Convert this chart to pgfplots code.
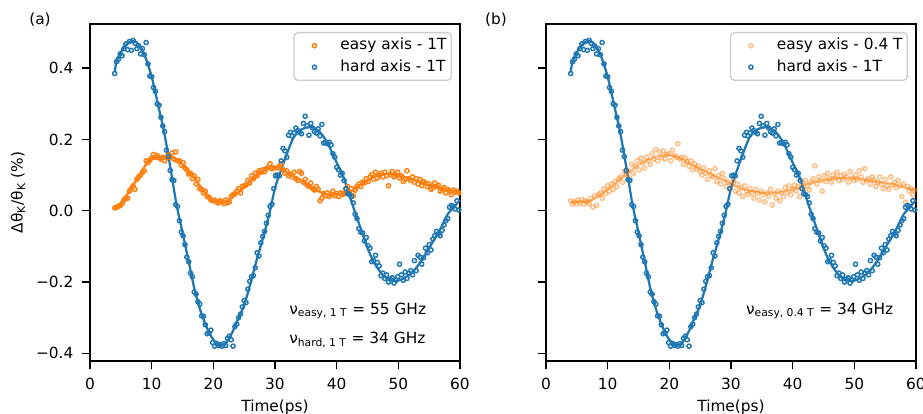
\documentclass[border=0pt]{standalone}
\usepackage{fontspec}
\setmainfont{DejaVu Sans}
\usepackage{pgfplots}
\usepackage{pgfplotstable}
\pgfplotsset{compat=1.18}
\definecolor{mblue}{HTML}{1F77B4}
\definecolor{morange}{HTML}{FF7F0E}

% hard axis - 1T, measured points
\pgfplotstableread{
t y
4.0 0.385
4.3 0.418
4.6 0.425
4.9 0.440
5.2 0.435
5.5 0.455
5.8 0.468
6.1 0.452
6.4 0.475
6.7 0.450
7.0 0.478
7.3 0.470
7.6 0.455
7.9 0.462
8.2 0.440
8.5 0.455
8.8 0.438
9.1 0.472
9.4 0.412
9.7 0.378
10.0 0.376
10.3 0.346
10.6 0.335
10.9 0.300
11.2 0.296
11.5 0.262
11.8 0.238
12.1 0.222
12.4 0.170
12.7 0.152
13.0 0.113
13.3 0.087
13.6 0.085
13.9 0.017
14.2 0.012
14.5 -0.028
14.8 -0.060
15.1 -0.070
15.4 -0.095
15.7 -0.130
16.0 -0.143
16.3 -0.175
16.6 -0.185
16.9 -0.228
17.2 -0.234
17.5 -0.255
17.8 -0.262
18.1 -0.295
18.4 -0.296
18.7 -0.320
19.0 -0.345
19.3 -0.343
19.6 -0.335
19.9 -0.370
20.2 -0.380
20.5 -0.372
20.8 -0.378
21.1 -0.376
21.4 -0.380
21.7 -0.373
22.0 -0.378
22.3 -0.358
22.6 -0.352
22.9 -0.362
23.2 -0.380
23.5 -0.325
23.8 -0.318
24.1 -0.300
24.4 -0.290
24.7 -0.270
25.0 -0.252
25.3 -0.258
25.6 -0.220
25.9 -0.198
26.2 -0.185
26.5 -0.182
26.8 -0.160
27.1 -0.118
27.4 -0.127
27.7 -0.090
28.0 -0.072
28.3 -0.058
28.6 -0.035
28.9 -0.013
29.2 0.012
29.5 0.018
29.8 0.062
30.1 0.098
30.4 0.100
30.7 0.098
31.0 0.140
31.3 0.175
31.6 0.168
31.9 0.150
32.2 0.212
32.5 0.220
32.8 0.210
33.1 0.218
33.4 0.232
33.7 0.225
34.0 0.220
34.3 0.216
34.6 0.245
34.9 0.265
35.2 0.238
35.5 0.212
35.8 0.245
36.1 0.232
36.4 0.222
36.7 0.218
37.0 0.230
37.3 0.210
37.6 0.242
37.9 0.190
38.2 0.192
38.5 0.188
38.8 0.192
39.1 0.185
39.4 0.160
39.7 0.150
40.0 0.122
40.3 0.115
40.6 0.100
40.9 0.105
41.2 0.085
41.5 0.062
41.8 0.048
42.1 0.045
42.4 0.040
42.7 0.022
43.0 -0.010
43.3 -0.022
43.6 -0.050
43.9 -0.060
44.2 -0.062
44.5 -0.085
44.8 -0.075
45.1 -0.098
45.4 -0.105
45.7 -0.143
46.0 -0.140
46.3 -0.125
46.6 -0.145
46.9 -0.155
47.2 -0.182
47.5 -0.175
47.8 -0.190
48.1 -0.180
48.4 -0.200
48.7 -0.192
49.0 -0.188
49.3 -0.203
49.6 -0.195
49.9 -0.185
50.2 -0.150
50.5 -0.180
50.8 -0.195
51.1 -0.172
51.4 -0.190
51.7 -0.175
52.0 -0.168
52.3 -0.180
52.6 -0.140
52.9 -0.168
53.2 -0.125
53.5 -0.130
53.8 -0.150
54.1 -0.132
54.4 -0.105
54.7 -0.118
55.0 -0.095
55.3 -0.110
55.6 -0.080
55.9 -0.070
56.2 -0.058
56.5 -0.065
56.8 -0.070
57.1 -0.055
57.4 -0.040
57.7 -0.028
58.0 -0.022
58.3 0.010
58.6 0.015
58.9 0.012
59.2 0.005
59.5 0.028
59.8 0.002
}\hardpts

% hard axis - 1T, fit
\pgfplotstableread{
t y
4 0.388
4.3 0.418
5 0.445
6 0.468
7 0.477
8 0.465
9 0.430
10 0.376
11 0.300
12 0.222
13 0.125
14 0.020
15 -0.061
16 -0.142
17 -0.224
18 -0.285
19 -0.330
20 -0.362
21 -0.378
22 -0.372
23 -0.344
24 -0.305
25 -0.265
26 -0.205
27 -0.140
28 -0.080
29 -0.015
30 0.063
31 0.115
32 0.163
33 0.205
34 0.225
35 0.233
36 0.234
37 0.225
38 0.205
39 0.173
40 0.135
41 0.100
42 0.047
43 -0.005
44 -0.055
45 -0.105
46 -0.143
47 -0.170
48 -0.188
49 -0.195
50 -0.196
51 -0.188
52 -0.177
53 -0.158
54 -0.133
55 -0.105
56 -0.075
57 -0.045
58 -0.010
59 0.010
60 0.030
}\hardfit

% easy axis - 1T, measured points
\pgfplotstableread{
t y
4.0 0.008
4.3 0.010
4.6 0.012
4.9 0.015
5.2 0.020
5.5 0.030
5.8 0.036
6.1 0.035
6.4 0.055
6.7 0.062
7.0 0.070
7.3 0.060
7.6 0.088
7.9 0.095
8.2 0.100
8.5 0.108
8.8 0.112
9.1 0.140
9.4 0.135
9.7 0.142
10.0 0.148
10.3 0.158
10.6 0.150
10.9 0.155
11.2 0.148
11.5 0.145
11.8 0.150
12.1 0.140
12.4 0.148
12.7 0.158
13.0 0.150
13.3 0.162
13.6 0.145
13.9 0.165
14.2 0.140
14.5 0.140
14.8 0.128
15.1 0.135
15.4 0.120
15.7 0.115
16.0 0.103
16.3 0.105
16.6 0.090
16.9 0.098
17.2 0.075
17.5 0.088
17.8 0.062
18.1 0.060
18.4 0.050
18.7 0.055
19.0 0.040
19.3 0.038
19.6 0.030
19.9 0.028
20.2 0.030
20.5 0.025
20.8 0.022
21.1 0.028
21.4 0.025
21.7 0.020
22.0 0.030
22.3 0.022
22.6 0.025
22.9 0.040
23.2 0.045
23.5 0.048
23.8 0.055
24.1 0.062
24.4 0.050
24.7 0.068
25.0 0.070
25.3 0.072
25.6 0.085
25.9 0.078
26.2 0.098
26.5 0.090
26.8 0.105
27.1 0.098
27.4 0.112
27.7 0.108
28.0 0.115
28.3 0.110
28.6 0.118
28.9 0.122
29.2 0.132
29.5 0.118
29.8 0.120
30.1 0.100
30.4 0.120
30.7 0.125
31.0 0.132
31.3 0.115
31.6 0.105
31.9 0.112
32.2 0.098
32.5 0.103
32.8 0.095
33.1 0.108
33.4 0.090
33.7 0.085
34.0 0.110
34.3 0.105
34.6 0.080
34.9 0.088
35.2 0.072
35.5 0.068
35.8 0.078
36.1 0.062
36.4 0.058
36.7 0.068
37.0 0.060
37.3 0.028
37.6 0.035
37.9 0.048
38.2 0.042
38.5 0.050
38.8 0.040
39.1 0.045
39.4 0.055
39.7 0.042
40.0 0.048
40.3 0.040
40.6 0.050
40.9 0.045
41.2 0.048
41.5 0.060
41.8 0.068
42.1 0.052
42.4 0.062
42.7 0.042
43.0 0.058
43.3 0.068
43.6 0.075
43.9 0.068
44.2 0.080
44.5 0.078
44.8 0.090
45.1 0.082
45.4 0.095
45.7 0.102
46.0 0.088
46.3 0.108
46.6 0.092
46.9 0.100
47.2 0.105
47.5 0.095
47.8 0.108
48.1 0.098
48.4 0.070
48.7 0.102
49.0 0.110
49.3 0.095
49.6 0.100
49.9 0.108
50.2 0.092
50.5 0.098
50.8 0.082
51.1 0.088
51.4 0.112
51.7 0.090
52.0 0.085
52.3 0.095
52.6 0.080
52.9 0.090
53.2 0.075
53.5 0.088
53.8 0.070
54.1 0.082
54.4 0.078
54.7 0.068
55.0 0.075
55.3 0.060
55.6 0.065
55.9 0.078
56.2 0.068
56.5 0.072
56.8 0.055
57.1 0.060
57.4 0.065
57.7 0.050
58.0 0.060
58.3 0.055
58.6 0.045
58.9 0.058
59.2 0.052
59.5 0.055
59.8 0.050
}\easypts

% easy axis - 1T, fit
\pgfplotstableread{
t y
4 0.008
5 0.018
6 0.045
7 0.072
8 0.098
9 0.128
10 0.146
11 0.152
12 0.150
13 0.150
14 0.145
15 0.130
16 0.112
17 0.090
18 0.066
19 0.045
20 0.030
21 0.024
22 0.026
23 0.036
24 0.050
25 0.065
26 0.082
27 0.098
28 0.110
29 0.120
30 0.124
31 0.118
32 0.107
33 0.097
34 0.088
35 0.077
36 0.065
37 0.055
38 0.048
39 0.045
40 0.046
41 0.048
42 0.052
43 0.062
44 0.074
45 0.085
46 0.095
47 0.100
48 0.103
49 0.103
50 0.100
51 0.095
52 0.089
53 0.084
54 0.078
55 0.072
56 0.067
57 0.062
58 0.058
59 0.055
60 0.053
}\easyfit

% easy axis - 0.4 T, measured points
\pgfplotstableread{
t y
4.0 0.028
4.3 0.018
4.6 0.025
4.9 0.020
5.2 0.030
5.5 0.022
5.8 0.032
6.1 0.018
6.4 0.028
6.7 0.025
7.0 0.020
7.3 0.035
7.6 0.010
7.9 0.042
8.2 0.015
8.5 0.045
8.8 0.050
9.1 0.035
9.4 0.062
9.7 0.048
10.0 0.070
10.3 0.055
10.6 0.075
10.9 0.060
11.2 0.082
11.5 0.068
11.8 0.090
12.1 0.095
12.4 0.080
12.7 0.110
13.0 0.100
13.3 0.112
13.6 0.092
13.9 0.130
14.2 0.105
14.5 0.125
14.8 0.140
15.1 0.115
15.4 0.148
15.7 0.135
16.0 0.120
16.3 0.150
16.6 0.140
16.9 0.130
17.2 0.160
17.5 0.145
17.8 0.172
18.1 0.140
18.4 0.165
18.7 0.150
19.0 0.168
19.3 0.145
19.6 0.158
19.9 0.160
20.2 0.140
20.5 0.170
20.8 0.155
21.1 0.150
21.4 0.188
21.7 0.145
22.0 0.150
22.3 0.130
22.6 0.148
22.9 0.138
23.2 0.125
23.5 0.140
23.8 0.115
24.1 0.132
24.4 0.118
24.7 0.125
25.0 0.110
25.3 0.100
25.6 0.120
25.9 0.105
26.2 0.088
26.5 0.112
26.8 0.100
27.1 0.095
27.4 0.118
27.7 0.082
28.0 0.098
28.3 0.075
28.6 0.105
28.9 0.090
29.2 0.068
29.5 0.080
29.8 0.060
30.1 0.072
30.4 0.085
30.7 0.055
31.0 0.075
31.3 0.050
31.6 0.065
31.9 0.040
32.2 0.070
32.5 0.055
32.8 0.045
33.1 0.062
33.4 0.050
33.7 0.035
34.0 0.060
34.3 0.048
34.6 0.030
34.9 0.055
35.2 0.045
35.5 0.025
35.8 0.050
36.1 0.040
36.4 0.060
36.7 0.016
37.0 0.048
37.3 0.035
37.6 0.055
37.9 0.028
38.2 0.050
38.5 0.040
38.8 0.065
39.1 0.052
39.4 0.070
39.7 0.045
40.0 0.060
40.3 0.072
40.6 0.055
40.9 0.068
41.2 0.040
41.5 0.078
41.8 0.060
42.1 0.085
42.4 0.070
42.7 0.058
43.0 0.080
43.3 0.090
43.6 0.126
43.9 0.075
44.2 0.095
44.5 0.085
44.8 0.055
45.1 0.098
45.4 0.082
45.7 0.105
46.0 0.090
46.3 0.080
46.6 0.100
46.9 0.092
47.2 0.108
47.5 0.085
47.8 0.098
48.1 0.088
48.4 0.102
48.7 0.095
49.0 0.080
49.3 0.110
49.6 0.092
49.9 0.085
50.2 0.100
50.5 0.088
50.8 0.112
51.1 0.095
51.4 0.080
51.7 0.118
52.0 0.085
52.3 0.090
52.6 0.075
52.9 0.095
53.2 0.085
53.5 0.068
53.8 0.080
54.1 0.095
54.4 0.075
54.7 0.062
55.0 0.088
55.3 0.070
55.6 0.060
55.9 0.095
56.2 0.072
56.5 0.080
56.8 0.065
57.1 0.085
57.4 0.070
57.7 0.040
58.0 0.075
58.3 0.024
58.6 0.068
58.9 0.055
59.2 0.062
59.5 0.045
59.8 0.058
}\easylowpts

% easy axis - 0.4 T, fit
\pgfplotstableread{
t y
4 0.025
5 0.025
6 0.025
7 0.027
8 0.035
9 0.046
10 0.060
11 0.073
12 0.088
13 0.102
14 0.115
15 0.128
16 0.138
17 0.146
18 0.152
19 0.155
20 0.156
21 0.152
22 0.144
23 0.135
24 0.126
25 0.117
26 0.109
27 0.100
28 0.092
29 0.084
30 0.075
31 0.067
32 0.060
33 0.056
34 0.053
35 0.051
36 0.049
37 0.050
38 0.052
39 0.056
40 0.060
41 0.065
42 0.072
43 0.078
44 0.083
45 0.086
46 0.089
47 0.091
48 0.092
49 0.092
50 0.091
51 0.089
52 0.086
53 0.083
54 0.080
55 0.078
56 0.076
57 0.071
58 0.066
59 0.061
60 0.057
}\easylowfit

\newcommand{\fs}{\fontsize{9.6}{11.5}\selectfont}

\pgfplotsset{
  panel/.style={
    scale only axis, width=231.25pt, height=210.625pt,
    xmin=0, xmax=60, ymin=-0.4216, ymax=0.524,
    clip=false,
    xtick={0,10,20,30,40,50,60},
    xticklabels={0,10,20,30,40,50,60},
    ytick={-0.4,-0.2,0,0.2,0.4},
    xtick pos=bottom, ytick pos=left,
    tick align=outside, major tick length=5.2pt,
    every tick/.style={black, line width=0.9pt},
    axis line style={line width=0.9pt},
    tick label style={font=\fs},
    xticklabel style={inner sep=0pt, yshift=-5pt},
    yticklabel style={inner sep=0pt, xshift=-5pt},
    xlabel={Time(ps)},
    xlabel style={font=\fs, at={(axis description cs:0.5,0)}, anchor=north, inner sep=0pt, yshift=-24pt},
    legend cell align=left,
    legend style={at={(axis description cs:1,1)}, anchor=north east,
      xshift=-5pt, yshift=-5pt, draw=black!20, line width=0.8pt,
      rounded corners=2.5pt, fill=white, font=\fs,
      inner xsep=2pt, inner ysep=1.5pt, row sep=0pt,
      nodes={inner xsep=1pt, inner ysep=2pt, text height=7.2pt, text depth=2.2pt}},
    pts/.style={only marks, mark=o, mark size=1.3pt, line width=0.9pt,
      legend image code/.code={
        \path[draw=none, fill=none] (0pt,-0.1pt) rectangle (26pt,0.1pt);
        \draw[only marks] plot coordinates {(10.75pt,0pt)};
      }},
    fit/.style={no marks, smooth, line width=1.4pt, forget plot},
  }
}

\begin{document}
\begin{tikzpicture}
\begin{axis}[panel, at={(0,0)}, anchor=south west,
  yticklabels={−0.4,−0.2,0.0,0.2,0.4},
  ylabel={Δθ\textsubscript{K}/θ\textsubscript{K} (\%)},
  ylabel style={font=\fs, at={(axis description cs:-0.1946,0.5)}, anchor=center},
]
\addplot[pts, color=morange] table[x=t,y=y] {\easypts};
\addlegendentry{easy axis - 1T}
\addplot[fit, color=morange] table[x=t,y=y] {\easyfit};
\addplot[pts, color=mblue] table[x=t,y=y] {\hardpts};
\addlegendentry{hard axis - 1T}
\addplot[fit, color=mblue] table[x=t,y=y] {\hardfit};
\node[anchor=west, inner sep=0pt, font=\fs] at (axis cs:32.27,-0.281) {ν\textsubscript{easy, 1 T} = 55 GHz};
\node[anchor=west, inner sep=0pt, font=\fs] at (axis cs:32.27,-0.362) {ν\textsubscript{hard, 1 T} = 34 GHz};
\end{axis}

\begin{axis}[panel, at={(285pt,0)}, anchor=south west,
  yticklabels={},
]
\addplot[pts, color=morange, opacity=0.5] table[x=t,y=y] {\easylowpts};
\addlegendentry{easy axis - 0.4 T}
\addplot[fit, color=morange, opacity=0.5] table[x=t,y=y] {\easylowfit};
\addplot[pts, color=mblue] table[x=t,y=y] {\hardpts};
\addlegendentry{hard axis - 1T}
\addplot[fit, color=mblue] table[x=t,y=y] {\hardfit};
\node[anchor=west, inner sep=0pt, font=\fs] at (axis cs:32.4,-0.281) {ν\textsubscript{easy, 0.4 T} = 34 GHz};
\end{axis}

\node[font=\fs] at (-31.25pt,213.1pt) {(a)};
\node[font=\fs] at (253.75pt,213.1pt) {(b)};

\pgfresetboundingbox
\path[use as bounding box] (-56.25pt,-33.125pt) rectangle (520.625pt,225.625pt);
\end{tikzpicture}
\end{document}
